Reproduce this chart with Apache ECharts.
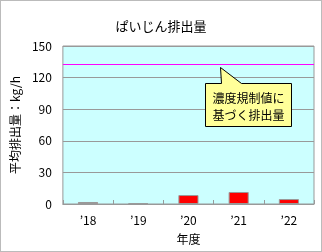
<!DOCTYPE html>
<html><head><meta charset="utf-8">
<script src="https://cdn.jsdelivr.net/npm/echarts@6/dist/echarts.min.js"></script>
<style>html,body{margin:0;padding:0;background:#fff}#c{width:322px;height:252px;box-sizing:border-box;border:1px solid #bbbbbb}</style>
</head><body><div id="c"></div>
<script>
const titleText = 'ぱいじん排出量';
const categories = ['’18', '’19', '’20', '’21', '’22'];
const emissions = [1.9, 0.6, 8.5, 11.4, 4.7];
const limitValue = 133;
const yTicks = [0, 30, 60, 90, 120, 150];
const calloutLines = ['濃度規制値に', '基づく排出量'];
const yName = '平均排出量：kg/h';
const xName = '年度';

const FONT = '"Noto Sans CJK JP", sans-serif';
const chart = echarts.init(document.getElementById('c'), null, {renderer: 'canvas'});
chart.setOption({
  animation: false,
  textStyle: {fontFamily: FONT},
  title: {text: titleText, left: 'center', top: 14, textStyle: {fontSize: 13, fontWeight: 'normal', color: '#000', fontFamily: FONT}},
  grid: {left: 52, right: 7, top: 45, bottom: 47, show: true, backgroundColor: '#CCFFFF', borderColor: '#999999', borderWidth: 1},
  xAxis: {
    type: 'category', data: categories,
    name: xName, nameLocation: 'middle', nameGap: 29,
    nameTextStyle: {fontSize: 12, color: '#000', fontFamily: FONT},
    axisLine: {lineStyle: {color: '#999999'}},
    axisTick: {show: true, inside: true, length: 4, lineStyle: {color: '#999999'}},
    axisLabel: {fontSize: 12, color: '#000', margin: 10, fontFamily: FONT}
  },
  yAxis: {
    type: 'value', min: yTicks[0], max: yTicks[yTicks.length - 1], interval: 30,
    name: yName, nameLocation: 'middle', nameGap: 34,
    nameTextStyle: {fontSize: 12, color: '#000', fontFamily: FONT},
    axisLine: {show: false}, axisTick: {show: false},
    axisLabel: {fontSize: 12, color: '#000', margin: 11, fontFamily: FONT},
    splitLine: {lineStyle: {color: '#999999', width: 1}}
  },
  series: [{
    type: 'bar', data: emissions, barWidth: '40%',
    itemStyle: {color: '#FF0000', borderColor: '#999999', borderWidth: 1},
    markLine: {silent: true, symbol: 'none', label: {show: false},
      lineStyle: {color: '#FF00FF', width: 1, type: 'solid'},
      data: [{yAxis: limitValue}]}
  }]
});

// callout annotation anchored to the limit line (between the '20 and '21 columns)
const p2 = chart.convertToPixel({xAxisIndex: 0, yAxisIndex: 0}, [2, limitValue]);
const p3 = chart.convertToPixel({xAxisIndex: 0, yAxisIndex: 0}, [3, limitValue]);
const tx = Math.round(p2[0] + 0.62 * (p3[0] - p2[0])) + 0.5, ty = Math.round(p2[1]) + 3.5;
const bx0 = tx - 15, bx1 = tx + 71, by0 = ty + 16, by1 = ty + 59;
chart.setOption({graphic: [
  {type: 'polygon', shape: {points: [[bx0, by0], [tx + 1, by0], [tx, ty], [tx + 21, by0], [bx1, by0], [bx1, by1], [bx0, by1]]},
   style: {fill: '#FFFF99', stroke: '#000', lineWidth: 1}, z: 100},
  {type: 'text', x: (bx0 + bx1) / 2, y: by0 + 6, z: 101,
   style: {text: calloutLines.join('\n'), fill: '#000', font: '12px ' + FONT, align: 'center', verticalAlign: 'top', lineHeight: 17}}
]});
</script></body></html>
